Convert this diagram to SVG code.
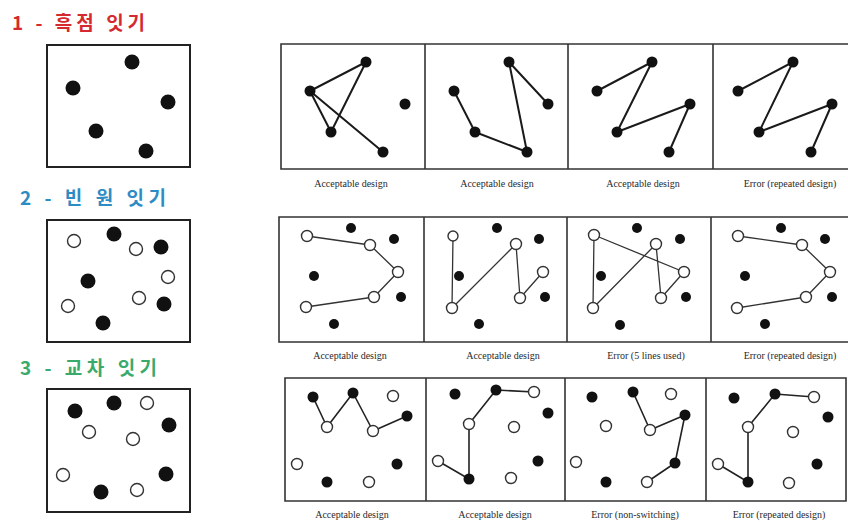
<svg xmlns="http://www.w3.org/2000/svg" width="848" height="522" viewBox="0 0 848 522">
<style>
.bg{fill:#fff}
.box{fill:none;stroke:#222;stroke-width:2}
.pbox{fill:none;stroke:#333;stroke-width:1.6}
.f{fill:#111}
.o{fill:#fff;stroke:#333;stroke-width:1.4}
.l1{stroke:#1a1a1a;stroke-width:2;fill:none;stroke-linecap:round;stroke-linejoin:round}
.l2{stroke:#333;stroke-width:1.3;fill:none;stroke-linejoin:round}
.l3{stroke:#222;stroke-width:1.6;fill:none;stroke-linejoin:round}
.h{font-family:"Noto Sans CJK KR","Noto Sans",sans-serif;font-weight:bold;font-size:19px}
.cap{font-family:"Liberation Serif",serif;font-size:10px;fill:#2a2a2a;text-anchor:middle}
</style>
<rect class="bg" x="0" y="0" width="848" height="522"/>

<g id="header1"><text class="h" x="12" y="30" fill="#d42a2f" letter-spacing="4">1 - 흑점 잇기</text></g>
<g id="header2"><text class="h" x="20" y="205" fill="#2e8cc4" letter-spacing="4.5">2 - 빈 원 잇기</text></g>
<g id="header3"><text class="h" x="20" y="375" fill="#3aaa6c" letter-spacing="4.5">3 - 교차 잇기</text></g>

<g id="example1">
<rect class="box" x="47" y="45" width="143" height="122"/>
<circle class="f" cx="132" cy="62" r="7.5"/><circle class="f" cx="73" cy="88" r="7.5"/><circle class="f" cx="168" cy="102" r="7.5"/><circle class="f" cx="96" cy="131" r="7.5"/><circle class="f" cx="146" cy="151" r="7.5"/>
</g>
<g id="example2">
<rect class="box" x="47" y="220" width="143" height="122"/>
<circle class="o" cx="74" cy="241" r="6.5"/><circle class="f" cx="114" cy="234" r="7.5"/><circle class="o" cx="136" cy="249" r="6.5"/><circle class="f" cx="161" cy="247" r="7.5"/><circle class="o" cx="168" cy="277" r="6.5"/><circle class="f" cx="88" cy="281" r="7.5"/><circle class="o" cx="139" cy="298" r="6.5"/><circle class="f" cx="164" cy="304" r="7.5"/><circle class="o" cx="68" cy="306" r="6.5"/><circle class="f" cx="103" cy="323" r="7.5"/>
</g>
<g id="example3">
<rect class="box" x="47" y="389" width="143" height="123"/>
<circle class="f" cx="75" cy="411" r="7.5"/><circle class="f" cx="114" cy="403" r="7.5"/><circle class="o" cx="147" cy="403" r="6.5"/><circle class="f" cx="169" cy="425" r="7.5"/><circle class="o" cx="89" cy="432" r="6.5"/><circle class="o" cx="133" cy="439" r="6.5"/><circle class="o" cx="63" cy="475" r="6.5"/><circle class="f" cx="166" cy="474" r="7.5"/><circle class="f" cx="101" cy="492" r="7.5"/><circle class="o" cx="137" cy="490" r="6.5"/>
</g>

<g id="connectors">
<g id="row1-lines" class="l1">
<polyline points="331,132 310,91 366,62 331,132"/><line x1="310" y1="91" x2="383" y2="152"/>
<polyline points="454,91 475,132 527,152 509,62 548,104"/>
<polyline points="597,91 652,62 617,132 690,104 669,152"/>
<polyline points="738,91 793,62 759,132 832,104 811,152"/>
</g>
<g id="row2-lines" class="l2">
<polyline points="307,236 370,245 398,272 374,297 306,307"/>
<polyline points="453,236 452,308 516,244 520,298 543,272"/>
<polyline points="594,235 593,308 656,244 661,298 684,272 594,235"/>
<polyline points="738,236 802,245 830,272 806,297 737,308"/>
</g>
<g id="row3-lines" class="l3">
<polyline points="313,397 327,427 353,393 373,431 407,416"/>
<polyline points="438,461 469,479 469,424 496,390 534,392"/>
<polyline points="633,392 650,430 685,415 675,463 647,482"/>
<polyline points="718,464 748,482 748,427 775,394 814,397"/>
</g>
</g>

<g id="row1">
<path class="pbox" d="M848,44 H281 V169 H848 M425,44 V169 M568,44 V169 M713,44 V169"/>
<g id="r1p1"><circle class="f" cx="366" cy="62" r="5.5"/><circle class="f" cx="310" cy="91" r="5.5"/><circle class="f" cx="405" cy="104" r="5.5"/><circle class="f" cx="331" cy="132" r="5.5"/><circle class="f" cx="383" cy="152" r="5.5"/><text class="cap" x="351" y="187">Acceptable design</text></g>
<g id="r1p2"><circle class="f" cx="509" cy="62" r="5.5"/><circle class="f" cx="454" cy="91" r="5.5"/><circle class="f" cx="548" cy="104" r="5.5"/><circle class="f" cx="475" cy="132" r="5.5"/><circle class="f" cx="527" cy="152" r="5.5"/><text class="cap" x="497" y="187">Acceptable design</text></g>
<g id="r1p3"><circle class="f" cx="652" cy="62" r="5.5"/><circle class="f" cx="597" cy="91" r="5.5"/><circle class="f" cx="690" cy="104" r="5.5"/><circle class="f" cx="617" cy="132" r="5.5"/><circle class="f" cx="669" cy="152" r="5.5"/><text class="cap" x="643" y="187">Acceptable design</text></g>
<g id="r1p4"><circle class="f" cx="793" cy="62" r="5.5"/><circle class="f" cx="738" cy="91" r="5.5"/><circle class="f" cx="832" cy="104" r="5.5"/><circle class="f" cx="759" cy="132" r="5.5"/><circle class="f" cx="811" cy="152" r="5.5"/><text class="cap" x="790" y="187">Error (repeated design)</text></g>
</g>

<g id="row2">
<path class="pbox" d="M848,217 H279 V342 H848 M424,217 V342 M567,217 V342 M711,217 V342"/>
<g id="r2p1"><circle class="o" cx="307" cy="236" r="5.5"/><circle class="f" cx="351" cy="228" r="5"/><circle class="o" cx="370" cy="245" r="5.5"/><circle class="f" cx="394" cy="239" r="5"/><circle class="o" cx="398" cy="272" r="5.5"/><circle class="f" cx="314" cy="276" r="5"/><circle class="o" cx="374" cy="297" r="5.5"/><circle class="f" cx="401" cy="297" r="5"/><circle class="o" cx="306" cy="307" r="5.5"/><circle class="f" cx="334" cy="324" r="5"/><text class="cap" x="350" y="359">Acceptable design</text></g>
<g id="r2p2"><circle class="o" cx="453" cy="236" r="5"/><circle class="f" cx="497" cy="228" r="5"/><circle class="o" cx="516" cy="244" r="5.5"/><circle class="f" cx="539" cy="239" r="5"/><circle class="o" cx="543" cy="272" r="5.5"/><circle class="f" cx="459" cy="276" r="5"/><circle class="o" cx="520" cy="298" r="5.5"/><circle class="f" cx="545" cy="297" r="5"/><circle class="o" cx="452" cy="308" r="5.5"/><circle class="f" cx="479" cy="324" r="5"/><text class="cap" x="503" y="359">Acceptable design</text></g>
<g id="r2p3"><circle class="o" cx="594" cy="235" r="5.5"/><circle class="f" cx="637" cy="228" r="5"/><circle class="o" cx="656" cy="244" r="5.5"/><circle class="f" cx="680" cy="239" r="5"/><circle class="o" cx="684" cy="272" r="5.5"/><circle class="f" cx="601" cy="276" r="5"/><circle class="o" cx="661" cy="298" r="5.5"/><circle class="f" cx="686" cy="297" r="5"/><circle class="o" cx="593" cy="308" r="5.5"/><circle class="f" cx="620" cy="325" r="5"/><text class="cap" x="646" y="359">Error (5 lines used)</text></g>
<g id="r2p4"><circle class="o" cx="738" cy="236" r="5.5"/><circle class="f" cx="781" cy="228" r="5"/><circle class="o" cx="802" cy="245" r="5.5"/><circle class="f" cx="825" cy="239" r="5"/><circle class="o" cx="830" cy="272" r="5.5"/><circle class="f" cx="745" cy="276" r="5"/><circle class="o" cx="806" cy="297" r="5.5"/><circle class="f" cx="832" cy="297" r="5"/><circle class="o" cx="737" cy="308" r="5.5"/><circle class="f" cx="765" cy="324" r="5"/><text class="cap" x="790" y="359">Error (repeated design)</text></g>
</g>

<g id="row3">
<path class="pbox" d="M285,378 H846 V501 H285 Z M426,378 V501 M565,378 V501 M706,378 V501"/>
<g id="r3p1"><circle class="f" cx="313" cy="397" r="5.5"/><circle class="f" cx="353" cy="393" r="5.5"/><circle class="o" cx="393" cy="396" r="5.5"/><circle class="f" cx="407" cy="416" r="5.5"/><circle class="o" cx="327" cy="427" r="5.5"/><circle class="o" cx="373" cy="431" r="5.5"/><circle class="o" cx="297" cy="464" r="5.5"/><circle class="f" cx="397" cy="464" r="5.5"/><circle class="f" cx="327" cy="482" r="5.5"/><circle class="o" cx="369" cy="482" r="5.5"/><text class="cap" x="352" y="518">Acceptable design</text></g>
<g id="r3p2"><circle class="f" cx="455" cy="394" r="5.5"/><circle class="f" cx="496" cy="390" r="5.5"/><circle class="o" cx="534" cy="392" r="5.5"/><circle class="f" cx="548" cy="413" r="5.5"/><circle class="o" cx="469" cy="424" r="5.5"/><circle class="o" cx="514" cy="427" r="5.5"/><circle class="o" cx="438" cy="461" r="5.5"/><circle class="f" cx="538" cy="461" r="5.5"/><circle class="f" cx="469" cy="479" r="5.5"/><circle class="o" cx="511" cy="478" r="5.5"/><text class="cap" x="495" y="518">Acceptable design</text></g>
<g id="r3p3"><circle class="f" cx="592" cy="397" r="5.5"/><circle class="f" cx="633" cy="392" r="5.5"/><circle class="o" cx="671" cy="394" r="5.5"/><circle class="f" cx="685" cy="415" r="5.5"/><circle class="o" cx="606" cy="426" r="5.5"/><circle class="o" cx="650" cy="430" r="5.5"/><circle class="o" cx="576" cy="462" r="5.5"/><circle class="f" cx="675" cy="463" r="5.5"/><circle class="f" cx="606" cy="482" r="5.5"/><circle class="o" cx="647" cy="482" r="5.5"/><text class="cap" x="635" y="518">Error (non-switching)</text></g>
<g id="r3p4"><circle class="f" cx="734" cy="398" r="5.5"/><circle class="f" cx="775" cy="394" r="5.5"/><circle class="o" cx="814" cy="397" r="5.5"/><circle class="f" cx="828" cy="417" r="5.5"/><circle class="o" cx="748" cy="427" r="5.5"/><circle class="o" cx="793" cy="432" r="5.5"/><circle class="o" cx="718" cy="464" r="5.5"/><circle class="f" cx="817" cy="464" r="5.5"/><circle class="f" cx="748" cy="482" r="5.5"/><circle class="o" cx="789" cy="483" r="5.5"/><text class="cap" x="779" y="518">Error (repeated design)</text></g>
</g>
</svg>
